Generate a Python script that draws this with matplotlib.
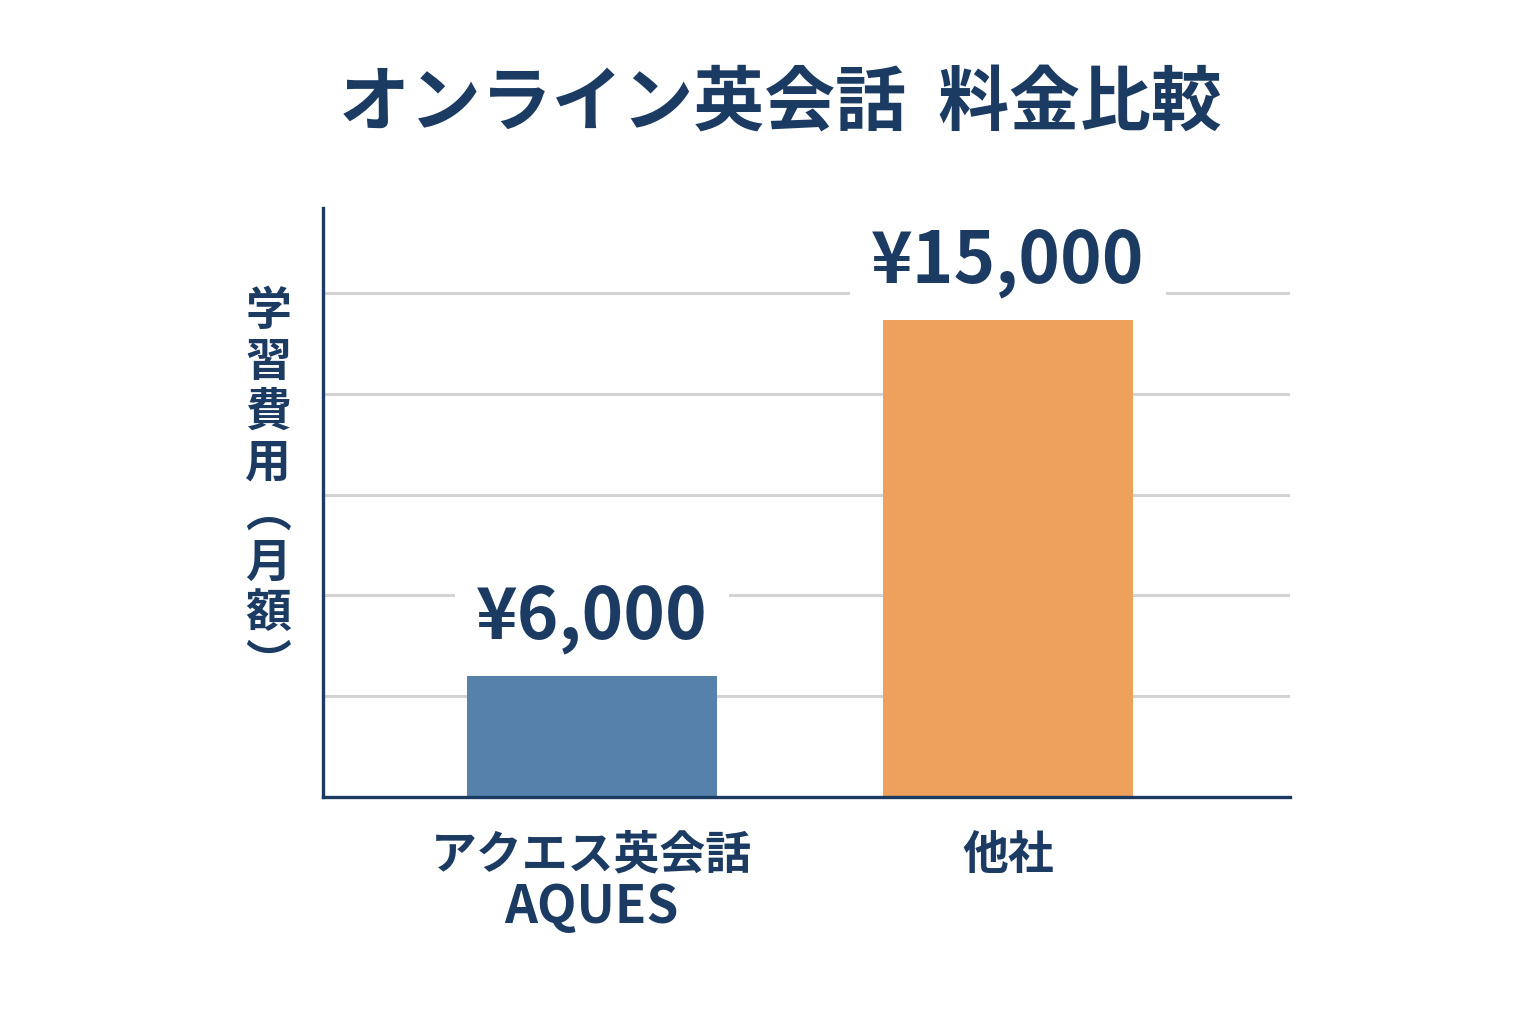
import numpy as np
import matplotlib
matplotlib.use("Agg")
import matplotlib.pyplot as plt

plt.rcParams['font.family'] = ['Noto Sans CJK JP', 'DejaVu Sans']

# data
categories = ["アクエス英会話", "他社"]
sub_names = ["AQUES", ""]
prices = [6000, 15000]
price_labels = ["¥6,000", "¥15,000"]
bar_colors = ["#5581ab", "#eea05d"]

navy = "#1b3b63"

fig = plt.figure(figsize=(15.36, 10.24), dpi=100)
ax = fig.add_axes([0.210, 0.222, 0.630, 0.575])

x = np.arange(len(categories))
bars = ax.bar(x, prices, width=0.6, color=bar_colors, zorder=2)

# axis does not start at zero in the original
ax.set_ylim(2900, 17780)
ax.set_xlim(-0.647, 1.678)
ax.set_yticks(np.arange(2900 + 2545, 17780, 2545))
ax.yaxis.grid(True, color="#d3d3d3", linewidth=2.2, zorder=0)
ax.set_axisbelow(True)
ax.tick_params(axis="y", length=0, labelleft=False)
ax.tick_params(axis="x", length=0, pad=26)

ax.set_xticks(x)
ax.set_xticklabels(categories, fontsize=33, fontweight="bold", color=navy, va="top")

# second line of the tick label (latin name)
for xi, sub in zip(x, sub_names):
    if sub:
        ax.annotate(sub, (xi, 0), xycoords=("data", "axes fraction"),
                    xytext=(0, -80), textcoords="offset points",
                    ha="center", va="center", fontsize=37, fontweight="bold",
                    color=navy)

for s in ["top", "right"]:
    ax.spines[s].set_visible(False)
for s in ["left", "bottom"]:
    ax.spines[s].set_color(navy)
    ax.spines[s].set_linewidth(2.4)

for b, lab in zip(bars, price_labels):
    ax.annotate(lab, (b.get_x() + b.get_width() / 2, b.get_height()),
                xytext=(0, 40), textcoords="offset points",
                ha="center", va="center", fontsize=51, fontweight="bold",
                color=navy, zorder=3,
                bbox=dict(boxstyle="square,pad=0.3", fc="white", ec="none"))

fig.text(0.508, 0.899, "オンライン英会話  料金比較", ha="center", va="center",
         fontsize=51, fontweight="bold", color=navy)

ylab = "\n".join(list("学習費用︵月額︶"))
fig.text(0.1745, 0.523, ylab, ha="center", va="center", fontsize=33,
         fontweight="bold", color=navy, linespacing=1.12)

fig.savefig("out.png", dpi=100)
